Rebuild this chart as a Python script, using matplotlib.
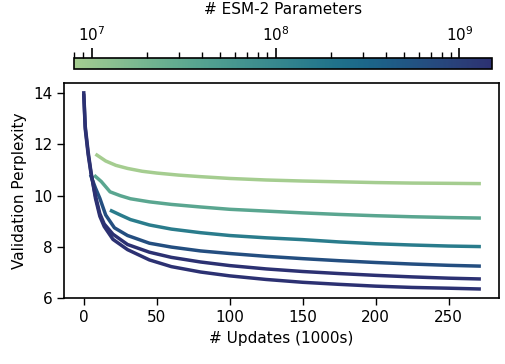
import numpy as np
import matplotlib
matplotlib.use("Agg")
import matplotlib.pyplot as plt
import matplotlib.colors as mcolors
import seaborn as sns

# model sizes (number of parameters)
params = [8e6, 35e6, 150e6, 650e6, 3e9, 15e9]

# validation curves (updates in 1000s, perplexity)
x_8m = [9, 15, 22, 30, 40, 50, 65, 80, 100, 125, 150, 175, 200, 225, 250, 271]
y_8m = [11.58, 11.35, 11.18, 11.06, 10.95, 10.88, 10.80, 10.74, 10.67, 10.61, 10.57, 10.54, 10.51, 10.49, 10.48, 10.47]

x_35m = [8, 12, 18, 25, 32, 45, 60, 80, 100, 125, 150, 175, 200, 225, 250, 271]
y_35m = [10.75, 10.55, 10.15, 10.0, 9.88, 9.76, 9.66, 9.56, 9.47, 9.40, 9.33, 9.27, 9.22, 9.18, 9.15, 9.13]

x_150m = [19, 25, 32, 45, 60, 80, 100, 125, 150, 175, 200, 225, 250, 271]
y_150m = [9.41, 9.25, 9.07, 8.86, 8.70, 8.56, 8.45, 8.36, 8.29, 8.20, 8.13, 8.08, 8.04, 8.02]

x_650m = [5, 8, 11, 15, 21, 30, 45, 60, 80, 100, 125, 150, 175, 200, 225, 250, 271]
y_650m = [10.75, 10.3, 9.9, 9.25, 8.75, 8.45, 8.15, 8.0, 7.85, 7.75, 7.64, 7.55, 7.47, 7.40, 7.34, 7.29, 7.26]

x_3b = [0, 1, 3, 5, 8, 11, 14, 20, 30, 45, 60, 80, 100, 125, 150, 175, 200, 225, 250, 271]
y_3b = [13.9, 12.6, 11.6, 10.85, 10.0, 9.3, 8.9, 8.5, 8.1, 7.8, 7.6, 7.42, 7.28, 7.15, 7.05, 6.97, 6.90, 6.84, 6.79, 6.76]

x_15b = [0, 1, 3, 5, 8, 11, 14, 20, 30, 45, 60, 80, 100, 125, 150, 175, 200, 225, 250, 271]
y_15b = [14.0, 12.7, 11.7, 10.9, 9.9, 9.2, 8.8, 8.3, 7.9, 7.5, 7.24, 7.03, 6.88, 6.74, 6.63, 6.55, 6.48, 6.43, 6.40, 6.37]

curves = [(x_8m, y_8m), (x_35m, y_35m), (x_150m, y_150m),
          (x_650m, y_650m), (x_3b, y_3b), (x_15b, y_15b)]

plt.rcParams["font.size"] = 11

cmap = sns.color_palette("crest", as_cmap=True)
norm = mcolors.LogNorm(vmin=8e6, vmax=1.5e9)

fig = plt.figure(figsize=(5.06, 3.64), dpi=100)
ax = fig.add_axes([0.1265, 0.180, 0.8595, 0.591])
cax = fig.add_axes([0.146, 0.810, 0.826, 0.030])

for p, (xs, ys) in zip(params, curves):
    ax.plot(xs, ys, color=cmap(norm(p)), lw=2.5)

ax.set_ylim(6, 14.37)
ax.set_xticks([0, 50, 100, 150, 200, 250])
ax.set_yticks([6, 8, 10, 12, 14])
ax.set_xlabel("# Updates (1000s)")
ax.set_ylabel("Validation Perplexity")
ax.tick_params(length=5, width=1)
for s in ax.spines.values():
    s.set_linewidth(1.2)

sm = plt.cm.ScalarMappable(norm=norm, cmap=cmap)
cb = fig.colorbar(sm, cax=cax, orientation="horizontal")
cax.xaxis.set_ticks_position("top")
cax.xaxis.set_label_position("top")
cb.set_label("# ESM-2 Parameters", labelpad=8)
cax.tick_params(which="major", length=7, width=1.2)
cax.tick_params(which="minor", length=4, width=1)
cb.outline.set_linewidth(1.2)

fig.savefig("out.png", dpi=100)
